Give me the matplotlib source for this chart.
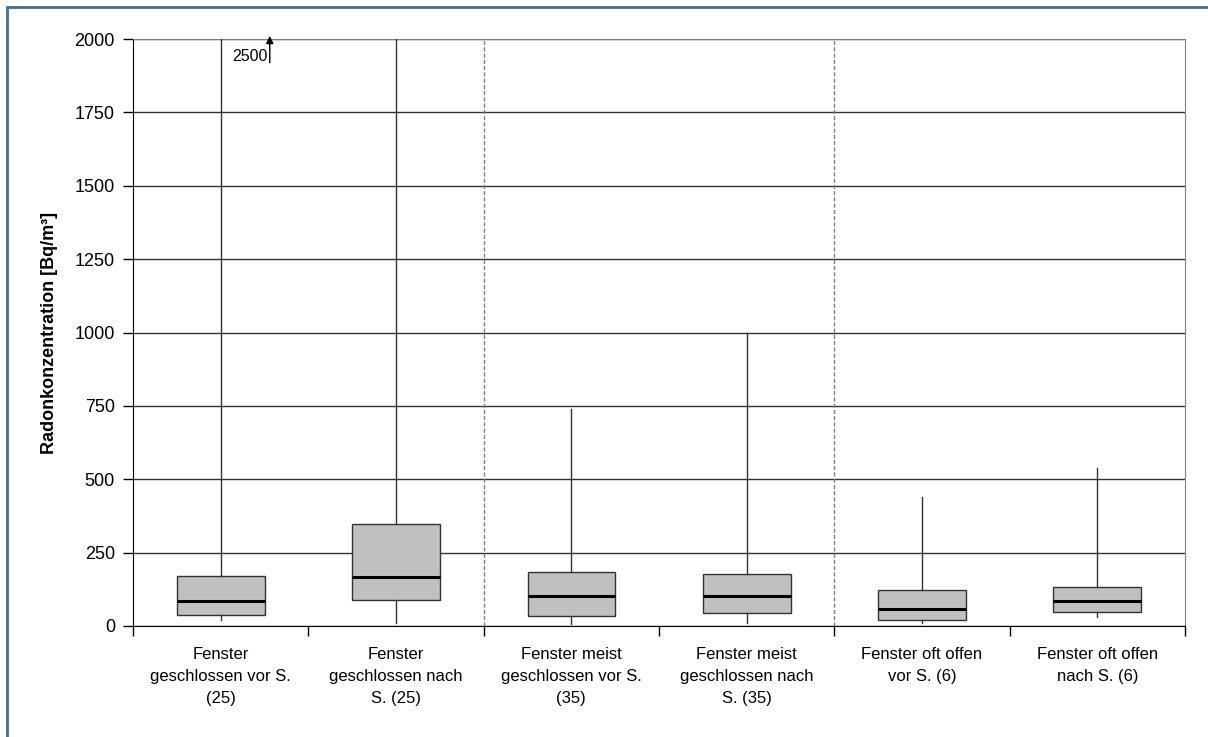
import matplotlib.pyplot as plt
from matplotlib.patches import Rectangle
import numpy as np

plt.rcParams['font.family'] = ['Liberation Sans', 'DejaVu Sans']

# Kategorien und Kennwerte der Boxplots (Bq/m³)
kategorien = ['Fenster\ngeschlossen vor S.\n(25)',
              'Fenster\ngeschlossen nach\nS. (25)',
              'Fenster meist\ngeschlossen vor S.\n(35)',
              'Fenster meist\ngeschlossen nach\nS. (35)',
              'Fenster oft offen\nvor S. (6)',
              'Fenster oft offen\nnach S. (6)']
minimum = [20, 11, 7, 9, 11, 30]
q1 = [37, 88, 35, 43, 20, 47]
median = [86, 166, 103, 103, 57, 86]
q3 = [169, 347, 184, 178, 123, 134]
maximum = [2500, 2000, 740, 1000, 440, 540]

fig = plt.figure(figsize=(12.08, 7.37), dpi=100)
ax = fig.add_axes([133/1208, 1-626/737, (1185-133)/1208, (626-39)/737])

stats = []
for i in range(len(kategorien)):
    stats.append({'whislo': minimum[i], 'q1': q1[i], 'med': median[i],
                  'q3': q3[i], 'whishi': maximum[i], 'fliers': []})

pos = np.arange(1, len(kategorien) + 1)
ax.bxp(stats, positions=pos, widths=0.5, showcaps=False, patch_artist=True,
       boxprops=dict(facecolor='#c0c0c0', edgecolor='#333333', linewidth=1),
       medianprops=dict(color='black', linewidth=2.2),
       whiskerprops=dict(color='#333333', linewidth=1), zorder=3)

ax.set_ylim(0, 2000)
ax.set_xlim(0.5, 6.5)
ax.set_yticks(np.arange(0, 2001, 250))
ax.yaxis.grid(True, color='#333333', linewidth=1)
ax.set_axisbelow(True)

# Trennlinien zwischen den Gruppen
for x in [2.5, 4.5]:
    ax.axvline(x, color='#808080', linestyle=(0, (3, 1.5)), linewidth=1, zorder=1)

ax.set_xticks(pos)
ax.set_xticklabels(kategorien, fontsize=12, linespacing=1.6)
ax.tick_params(axis='x', length=0, pad=15)
ax.set_xticks(np.arange(0.5, 6.6, 1), minor=True)
ax.tick_params(axis='x', which='minor', length=7, width=1, direction='out')
ax.tick_params(axis='y', length=7, width=1, labelsize=13, pad=6)

for s in ['top', 'right']:
    ax.spines[s].set_color('#808080')
for s in ['left', 'bottom']:
    ax.spines[s].set_color('black')

ax.set_ylabel('Radonkonzentration [Bq/m³]', fontsize=13, fontweight='bold', labelpad=12)

# Maximum der ersten Gruppe liegt außerhalb der Skala
ax.annotate('', xy=(1.28, 2020), xytext=(1.28, 1910),
            arrowprops=dict(arrowstyle='-|>', color='black', lw=1, mutation_scale=11),
            annotation_clip=False)
ax.text(1.27, 1942, '2500', ha='right', va='center', fontsize=11.5)

fig.patches.append(Rectangle((7/1208, -0.05), 1.2, 1-7/737+0.05, transform=fig.transFigure,
                             fill=False, edgecolor='#4a6e8a', linewidth=2))

fig.savefig('out.png', dpi=100)
